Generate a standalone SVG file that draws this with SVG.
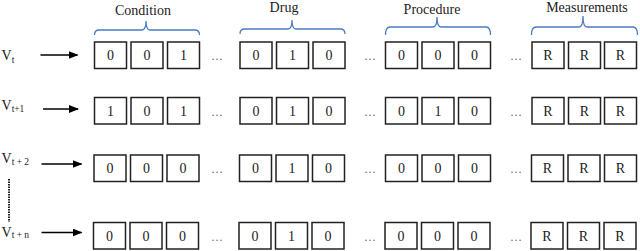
<svg xmlns="http://www.w3.org/2000/svg" width="640" height="251" viewBox="0 0 640 251" font-family="'Liberation Serif', 'Times New Roman', serif">
<defs>
<style>
text{font-family:'Liberation Serif','Times New Roman',serif}
.bx{fill:#fff;stroke:#222;stroke-width:1.5}
.t{font-size:14px;fill:#222;text-anchor:middle}
.h{font-size:14px;fill:#222;text-anchor:middle}
.v{font-size:14px;fill:#222}
.s{font-size:9.5px}
.d{font-size:12px;fill:#666;text-anchor:middle}
.br{fill:none;stroke:#4a7cc4;stroke-width:1.3}
.ar{stroke:#000;stroke-width:1.6;fill:none}
</style>
<marker id="ah" viewBox="0 0 10 8" refX="9" refY="4" markerWidth="10" markerHeight="8" markerUnits="userSpaceOnUse" orient="auto">
<path d="M0,0 L10,4 L0,8 Z" fill="#000"/>
</marker>
</defs>

<g id="headers">
<g id="condition-header">
<path class="br" d="M94.5,35 Q94.5,30 99,30 L142,30 Q146,30 146,21 Q146,30 150,30 L195,30 Q199.5,30 199.5,35"/>
<text class="h" x="143" y="15">Condition</text>
</g>
<g id="drug-header">
<path class="br" d="M240,34 Q240,29 244.5,29 L288,29 Q292,29 292,20 Q292,29 296,29 L340.5,29 Q345,29 345,34"/>
<text class="h" x="284" y="11.5">Drug</text>
</g>
<g id="procedure-header">
<path class="br" d="M385.5,35 Q385.5,27 390,27 L433,27 Q437,27 437,17 Q437,27 441,27 L486,27 Q490.5,27 490.5,35"/>
<text class="h" x="432" y="13.5">Procedure</text>
</g>
<g id="measurements-header">
<path class="br" d="M531.5,35 Q531.5,27 536,27 L579,27 Q583,27 583,16 Q583,27 587,27 L633,27 Q637.5,27 637.5,35"/>
<text class="h" x="587" y="11.5">Measurements</text>
</g>
</g>

<g id="labels">
<text class="v" x="1.5" y="60">V<tspan class="s" dy="3">t</tspan></text>
<text class="v" x="1.5" y="110">V<tspan class="s" dy="2">t+1</tspan></text>
<text class="v" x="1.5" y="163">V<tspan class="s" dy="2" xml:space="preserve">t + 2</tspan></text>
<text class="v" x="1.5" y="236.5">V<tspan class="s" dy="1" xml:space="preserve">t + n</tspan></text>
</g>

<g id="connectors">
<line class="ar" x1="40.5" y1="55" x2="77.5" y2="55" marker-end="url(#ah)"/>
<line class="ar" x1="43" y1="109" x2="78" y2="109" marker-end="url(#ah)"/>
<line class="ar" x1="41.5" y1="164" x2="81.5" y2="164" marker-end="url(#ah)"/>
<line class="ar" x1="41.5" y1="232.5" x2="81.5" y2="232.5" marker-end="url(#ah)"/>
<line x1="9" y1="179" x2="9" y2="222" stroke="#222" stroke-width="2" stroke-dasharray="1.5,1"/>
</g>

<g id="row-t">
<rect class="bx" x="94.5" y="42" width="32" height="26.5"/>
<rect class="bx" x="131" y="42" width="32" height="26.5"/>
<rect class="bx" x="167.5" y="42" width="32" height="26.5"/>
<rect class="bx" x="240" y="42" width="32" height="26.5"/>
<rect class="bx" x="276.5" y="42" width="32" height="26.5"/>
<rect class="bx" x="313" y="42" width="32" height="26.5"/>
<rect class="bx" x="385.5" y="42" width="32" height="26.5"/>
<rect class="bx" x="422" y="42" width="32" height="26.5"/>
<rect class="bx" x="458.5" y="42" width="32" height="26.5"/>
<rect class="bx" x="532" y="42" width="32" height="26.5"/>
<rect class="bx" x="568.5" y="42" width="32" height="26.5"/>
<rect class="bx" x="604.5" y="42" width="32" height="26.5"/>
<text class="t" x="110.5" y="60">0</text><text class="t" x="147" y="60">0</text><text class="t" x="183.5" y="60">1</text>
<text class="d" x="217" y="60">…</text>
<text class="t" x="256" y="60">0</text><text class="t" x="292.5" y="60">1</text><text class="t" x="329" y="60">0</text>
<text class="d" x="370" y="60">…</text>
<text class="t" x="401.5" y="60">0</text><text class="t" x="438" y="60">0</text><text class="t" x="474.5" y="60">0</text>
<text class="d" x="516" y="60">…</text>
<text class="t" x="548" y="60">R</text><text class="t" x="584.5" y="60">R</text><text class="t" x="620.5" y="60">R</text>
</g>

<g id="row-t1">
<rect class="bx" x="94.5" y="97.5" width="32" height="26.5"/>
<rect class="bx" x="131" y="97.5" width="32" height="26.5"/>
<rect class="bx" x="167.5" y="97.5" width="32" height="26.5"/>
<rect class="bx" x="240" y="97.5" width="32" height="26.5"/>
<rect class="bx" x="276.5" y="97.5" width="32" height="26.5"/>
<rect class="bx" x="313" y="97.5" width="32" height="26.5"/>
<rect class="bx" x="385.5" y="97.5" width="32" height="26.5"/>
<rect class="bx" x="422" y="97.5" width="32" height="26.5"/>
<rect class="bx" x="458.5" y="97.5" width="32" height="26.5"/>
<rect class="bx" x="532" y="97.5" width="32" height="26.5"/>
<rect class="bx" x="568.5" y="97.5" width="32" height="26.5"/>
<rect class="bx" x="604.5" y="97.5" width="32" height="26.5"/>
<text class="t" x="110.5" y="115.5">1</text><text class="t" x="147" y="115.5">0</text><text class="t" x="183.5" y="115.5">1</text>
<text class="d" x="217" y="115.5">…</text>
<text class="t" x="256" y="115.5">0</text><text class="t" x="292.5" y="115.5">1</text><text class="t" x="329" y="115.5">0</text>
<text class="d" x="370" y="115.5">…</text>
<text class="t" x="401.5" y="115.5">0</text><text class="t" x="438" y="115.5">1</text><text class="t" x="474.5" y="115.5">0</text>
<text class="d" x="516" y="115.5">…</text>
<text class="t" x="548" y="115.5">R</text><text class="t" x="584.5" y="115.5">R</text><text class="t" x="620.5" y="115.5">R</text>
</g>

<g id="row-t2">
<rect class="bx" x="94" y="155" width="32" height="26.5"/>
<rect class="bx" x="130.5" y="155" width="32" height="26.5"/>
<rect class="bx" x="167" y="155" width="32" height="26.5"/>
<rect class="bx" x="239.5" y="155" width="32" height="26.5"/>
<rect class="bx" x="276" y="155" width="32" height="26.5"/>
<rect class="bx" x="312.5" y="155" width="32" height="26.5"/>
<rect class="bx" x="385.5" y="155" width="32" height="26.5"/>
<rect class="bx" x="422" y="155" width="32" height="26.5"/>
<rect class="bx" x="458.5" y="155" width="32" height="26.5"/>
<rect class="bx" x="531.5" y="155" width="32" height="26.5"/>
<rect class="bx" x="568" y="155" width="32" height="26.5"/>
<rect class="bx" x="604.5" y="155" width="32" height="26.5"/>
<text class="t" x="110" y="173">0</text><text class="t" x="146.5" y="173">0</text><text class="t" x="183" y="173">0</text>
<text class="d" x="217" y="173">…</text>
<text class="t" x="255.5" y="173">0</text><text class="t" x="292" y="173">1</text><text class="t" x="328.5" y="173">0</text>
<text class="d" x="370" y="173">…</text>
<text class="t" x="401.5" y="173">0</text><text class="t" x="438" y="173">0</text><text class="t" x="474.5" y="173">0</text>
<text class="d" x="516" y="173">…</text>
<text class="t" x="547.5" y="173">R</text><text class="t" x="584" y="173">R</text><text class="t" x="620.5" y="173">R</text>
</g>

<g id="row-tn">
<rect class="bx" x="93.5" y="222.5" width="32" height="26.5"/>
<rect class="bx" x="130" y="222.5" width="32" height="26.5"/>
<rect class="bx" x="166.5" y="222.5" width="32" height="26.5"/>
<rect class="bx" x="239" y="222.5" width="32" height="26.5"/>
<rect class="bx" x="275.5" y="222.5" width="32" height="26.5"/>
<rect class="bx" x="312" y="222.5" width="32" height="26.5"/>
<rect class="bx" x="385" y="222.5" width="32" height="26.5"/>
<rect class="bx" x="421.5" y="222.5" width="32" height="26.5"/>
<rect class="bx" x="458" y="222.5" width="32" height="26.5"/>
<rect class="bx" x="531" y="222.5" width="32" height="26.5"/>
<rect class="bx" x="567.5" y="222.5" width="32" height="26.5"/>
<rect class="bx" x="604" y="222.5" width="32" height="26.5"/>
<text class="t" x="109.5" y="240.5">0</text><text class="t" x="146" y="240.5">0</text><text class="t" x="182.5" y="240.5">0</text>
<text class="d" x="217" y="240.5">…</text>
<text class="t" x="255" y="240.5">0</text><text class="t" x="291.5" y="240.5">1</text><text class="t" x="328" y="240.5">0</text>
<text class="d" x="370" y="240.5">…</text>
<text class="t" x="401" y="240.5">0</text><text class="t" x="437.5" y="240.5">0</text><text class="t" x="474" y="240.5">0</text>
<text class="d" x="516" y="240.5">…</text>
<text class="t" x="547" y="240.5">R</text><text class="t" x="583.5" y="240.5">R</text><text class="t" x="620" y="240.5">R</text>
</g>
</svg>
